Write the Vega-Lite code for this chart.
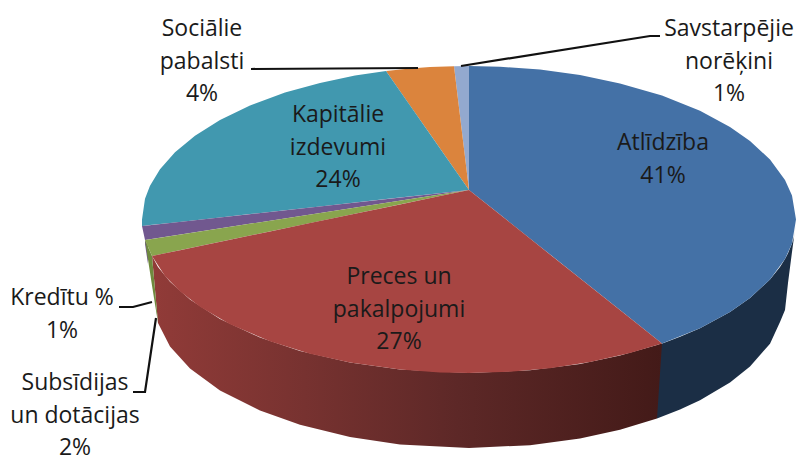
{"$schema":"https://vega.github.io/schema/vega-lite/v6.json","width":798,"height":455,"padding":0,"autosize":{"type":"none"},"background":"white","view":{"stroke":null},
"datasets":{
"top":[
{"slice":"Atlīdzība","x":469,"y":66,"y2":190},{"slice":"Atlīdzība","x":500,"y":66.7,"y2":214.6},{"slice":"Atlīdzība","x":540,"y":69.6,"y2":246.4},{"slice":"Atlīdzība","x":580,"y":75.1,"y2":278.2},{"slice":"Atlīdzība","x":620,"y":83.4,"y2":310},{"slice":"Atlīdzība","x":662,"y":95.6,"y2":343.4},{"slice":"Atlīdzība","x":700,"y":110.8,"y2":328.2},{"slice":"Atlīdzība","x":730,"y":127,"y2":312},{"slice":"Atlīdzība","x":750,"y":141,"y2":298},{"slice":"Atlīdzība","x":770,"y":159.5,"y2":279.5},{"slice":"Atlīdzība","x":785,"y":180,"y2":259},{"slice":"Atlīdzība","x":792,"y":195.5,"y2":243.5},{"slice":"Atlīdzība","x":796,"y":219.5,"y2":219.5},
{"slice":"Savstarpējie norēķini","x":454,"y":66.2,"y2":66.2},{"slice":"Savstarpējie norēķini","x":469,"y":66,"y2":190},
{"slice":"Sociālie pabalsti","x":386,"y":71,"y2":71},{"slice":"Sociālie pabalsti","x":410,"y":68.5,"y2":105.4},{"slice":"Sociālie pabalsti","x":430,"y":67.1,"y2":134.1},{"slice":"Sociālie pabalsti","x":454,"y":66.2,"y2":168.5},{"slice":"Sociālie pabalsti","x":469,"y":190,"y2":190},
{"slice":"Kapitālie izdevumi","x":142,"y":219.5,"y2":226},{"slice":"Kapitālie izdevumi","x":145,"y":198.8,"y2":225.7},{"slice":"Kapitālie izdevumi","x":150,"y":185.7,"y2":225.1},{"slice":"Kapitālie izdevumi","x":160,"y":169.3,"y2":224},{"slice":"Kapitālie izdevumi","x":175,"y":152.3,"y2":222.4},{"slice":"Kapitālie izdevumi","x":195,"y":135.7,"y2":220.2},{"slice":"Kapitālie izdevumi","x":220,"y":120,"y2":217.4},{"slice":"Kapitālie izdevumi","x":250,"y":105.6,"y2":214.1},{"slice":"Kapitālie izdevumi","x":285,"y":92.6,"y2":210.3},{"slice":"Kapitālie izdevumi","x":320,"y":82.9,"y2":206.4},{"slice":"Kapitālie izdevumi","x":355,"y":75.6,"y2":202.5},{"slice":"Kapitālie izdevumi","x":386,"y":71,"y2":199.1},{"slice":"Kapitālie izdevumi","x":469,"y":190,"y2":190},
{"slice":"Kredītu %","x":142,"y":226,"y2":226},{"slice":"Kredītu %","x":145,"y":225.7,"y2":240},{"slice":"Kredītu %","x":469,"y":190,"y2":190},
{"slice":"Subsīdijas un dotācijas","x":145,"y":240,"y2":240},{"slice":"Subsīdijas un dotācijas","x":152,"y":238.9,"y2":256},{"slice":"Subsīdijas un dotācijas","x":469,"y":190,"y2":190},
{"slice":"Preces un pakalpojumi","x":152,"y":256,"y2":256},{"slice":"Preces un pakalpojumi","x":165,"y":253.3,"y2":276},{"slice":"Preces un pakalpojumi","x":180,"y":250.2,"y2":291.3},{"slice":"Preces un pakalpojumi","x":200,"y":246,"y2":306.7},{"slice":"Preces un pakalpojumi","x":230,"y":239.8,"y2":324.2},{"slice":"Preces un pakalpojumi","x":270,"y":231.4,"y2":341.3},{"slice":"Preces un pakalpojumi","x":310,"y":223.1,"y2":353.7},{"slice":"Preces un pakalpojumi","x":350,"y":214.8,"y2":362.5},{"slice":"Preces un pakalpojumi","x":400,"y":204.4,"y2":369.5},{"slice":"Preces un pakalpojumi","x":440,"y":196,"y2":372.4},{"slice":"Preces un pakalpojumi","x":469,"y":190,"y2":373},{"slice":"Preces un pakalpojumi","x":510,"y":222.6,"y2":371.8},{"slice":"Preces un pakalpojumi","x":550,"y":254.4,"y2":368.2},{"slice":"Preces un pakalpojumi","x":590,"y":286.2,"y2":362.1},{"slice":"Preces un pakalpojumi","x":630,"y":318,"y2":353.1},{"slice":"Preces un pakalpojumi","x":662,"y":343.4,"y2":343.4}
],
"sideBlue":[
{"x":657,"y":345.6,"y2":418.6},{"x":680,"y":336.8,"y2":409.6},{"x":700,"y":328.2,"y2":400.3},{"x":730,"y":312,"y2":382.6},{"x":750,"y":298,"y2":366.6},{"x":770,"y":279.5,"y2":343.7},{"x":780,"y":266.9,"y2":322},{"x":785,"y":259,"y2":310},{"x":788,"y":253.3,"y2":283},{"x":792,"y":243.5,"y2":252},{"x":794,"y":236.4,"y2":237},{"x":796,"y":222,"y2":222}
],
"sideRed":[
{"x":152,"y":256,"y2":256},{"x":158,"y":266.9,"y2":323},{"x":170,"y":281.7,"y2":346.6},{"x":190,"y":299.6,"y2":368.4},{"x":220,"y":319,"y2":390.4},{"x":260,"y":337.5,"y2":410.5},{"x":300,"y":350.9,"y2":424.8},{"x":350,"y":362.5,"y2":436.9},{"x":400,"y":369.5,"y2":444.4},{"x":469,"y":373,"y2":448},{"x":530,"y":370.3,"y2":445.2},{"x":580,"y":363.9,"y2":438.4},{"x":620,"y":355.6,"y2":429.7},{"x":657,"y":345.1,"y2":418.6},{"x":662,"y":343.4,"y2":343.4}
],
"sideGreen":[{"x":145,"y":240,"y2":240},{"x":152,"y":256,"y2":285.5},{"x":158,"y":323,"y2":323}],
"sidePurple":[{"x":145,"y":240,"y2":244},{"x":148,"y":246,"y2":264}],
"leaders":[
{"name":"Kredītu %","order":1,"x":119,"y":307},{"name":"Kredītu %","order":2,"x":133,"y":307},{"name":"Kredītu %","order":3,"x":152,"y":302},
{"name":"Subsīdijas","order":1,"x":133,"y":392},{"name":"Subsīdijas","order":2,"x":145,"y":392},{"name":"Subsīdijas","order":3,"x":156,"y":318},
{"name":"Sociālie","order":1,"x":251,"y":69},{"name":"Sociālie","order":2,"x":418,"y":68},
{"name":"Savstarpējie","order":1,"x":461,"y":66},{"name":"Savstarpējie","order":2,"x":650,"y":36},{"name":"Savstarpējie","order":3,"x":660,"y":36}
],
"labels":[
{"label":"Atlīdzība\n41%","x":663,"y":143},
{"label":"Preces un\npakalpojumi\n27%","x":399,"y":277},
{"label":"Kapitālie\nizdevumi\n24%","x":338,"y":115},
{"label":"Sociālie\npabalsti\n4%","x":202,"y":29},
{"label":"Savstarpējie\nnorēķini\n1%","x":729,"y":29},
{"label":"Kredītu %\n1%","x":62,"y":298},
{"label":"Subsīdijas\nun dotācijas\n2%","x":75,"y":383}
]},
"encoding":{
"x":{"field":"x","type":"quantitative","axis":null,"scale":{"domain":[0,798]}},
"y":{"field":"y","type":"quantitative","axis":null,"scale":{"domain":[0,455],"reverse":true}}},
"layer":[
{"data":{"name":"sidePurple"},"mark":{"type":"area","color":"#71588f"},"encoding":{"y2":{"field":"y2"}}},
{"data":{"name":"sideBlue"},"mark":{"type":"area","color":"#1b2e45"},"encoding":{"y2":{"field":"y2"}}},
{"data":{"name":"sideRed"},"mark":{"type":"area","color":{"gradient":"linear","x1":0,"x2":1,"y1":0,"y2":0,"stops":[{"offset":0,"color":"#913b38"},{"offset":0.3,"color":"#773230"},{"offset":0.6,"color":"#5d2827"},{"offset":1,"color":"#431a18"}]}},"encoding":{"y2":{"field":"y2"}}},
{"data":{"name":"sideGreen"},"mark":{"type":"area","color":"#6f8a3e"},"encoding":{"y2":{"field":"y2"}}},
{"data":{"name":"top"},"mark":{"type":"area"},"encoding":{"y2":{"field":"y2"},"color":{"field":"slice","type":"nominal","legend":null,"scale":{"domain":["Atlīdzība","Preces un pakalpojumi","Subsīdijas un dotācijas","Kredītu %","Kapitālie izdevumi","Sociālie pabalsti","Savstarpējie norēķini"],"range":["#4471a6","#a74542","#89a54e","#71588f","#4198af","#db843d","#93a9cf"]}}}},
{"data":{"name":"leaders"},"mark":{"type":"line","color":"#111111","strokeWidth":2.2},"encoding":{"detail":{"field":"name"},"order":{"field":"order","type":"quantitative"}}},
{"data":{"name":"labels"},"mark":{"type":"text","font":"Open Sans","fontSize":23,"lineBreak":"\n","lineHeight":32.5,"align":"center","baseline":"middle","color":"#1a1a1a"},"encoding":{"text":{"field":"label"}}}
]}
